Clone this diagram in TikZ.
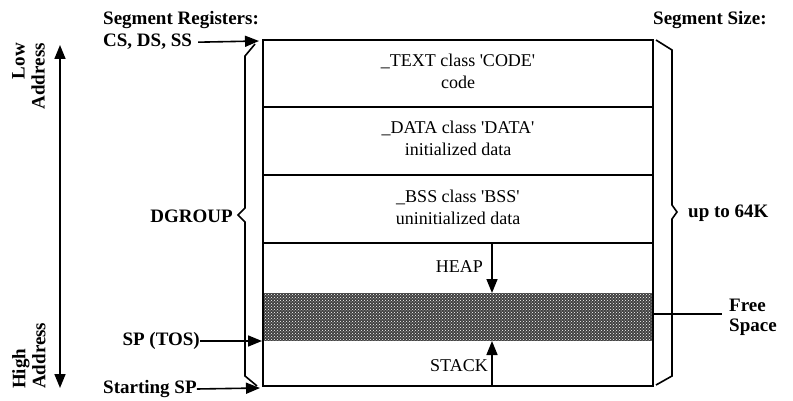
\documentclass[tikz,border=0pt]{standalone}
\usepackage{fontspec}
\setmainfont{Liberation Serif}
\newfontfamily\boxserif{Liberation Serif}
\usetikzlibrary{arrows.meta,patterns}
\begin{document}
\begin{tikzpicture}[x=1pt,y=-1pt,
  ln/.style={line width=1.6pt},
  lbl/.style={font=\fontsize{19}{20}\selectfont\bfseries, inner sep=0pt},
  boxtxt/.style={font=\boxserif\fontsize{18}{22}\selectfont, align=center, inner sep=0pt},
  arr/.style={line width=1.6pt, -{Triangle[length=14pt,width=11pt]}},
  brace/.style={line width=1.6pt, line join=miter}]
\useasboundingbox (0,0) rectangle (793,401);
% box geometry
\coordinate (tl) at (263,40);
\coordinate (tr) at (653,40);
\coordinate (bl) at (263,386);
\coordinate (br) at (653,386);
\coordinate (d1l) at (263,107); \coordinate (d1r) at (653,107);
\coordinate (d2l) at (263,175); \coordinate (d2r) at (653,175);
\coordinate (d3l) at (263,243); \coordinate (d3r) at (653,243);
\coordinate (fsl) at (263,293); \coordinate (fsr) at (653,341);
% free space
\fill[black!75] (fsl) rectangle (fsr);
\fill[pattern=crosshatch dots, pattern color=white] (fsl) rectangle (fsr);
\draw[ln] (tl) rectangle (br);
\draw[ln] (d1l) -- (d1r);
\draw[ln] (d2l) -- (d2r);
\draw[ln] (d3l) -- (d3r);
% box texts
\node[boxtxt] (text) at (458,71) {\_TEXT class 'CODE'\\code};
\node[boxtxt] (data) at (458,138) {\_DATA class 'DATA'\\initialized data};
\node[boxtxt] (bss) at (458,207) {\_BSS class 'BSS'\\uninitialized data};
\node[boxtxt, anchor=east] (heap) at (483,267) {HEAP};
\node[boxtxt, anchor=east] (stack) at (488,366) {STACK};
\coordinate (ha) at (492,243); \coordinate (hb) at (492,293);
\coordinate (sa) at (492,386); \coordinate (sb) at (492,341);
\draw[arr] (ha) -- (hb);
\draw[arr] (sa) -- (sb);
% left labels
\node[lbl, anchor=base west] (segreg) at (103,25) {Segment Registers:};
\node[lbl, anchor=base west] (csds) at (103,47) {CS, DS, SS};
\coordinate (c2) at (259,41);
\draw[arr] ([xshift=6pt]csds.east) -- (c2);
\node[lbl, anchor=east] (dgroup) at (233,216) {DGROUP};
\node[lbl, anchor=east] (sptos) at (200,341) {SP (TOS)};
\coordinate (c3) at (262,341);
\draw[arr] (sptos.east) -- (c3);
\node[lbl, anchor=west] (startsp) at (103,389) {Starting SP};
\coordinate (c4) at (260,388);
\draw[arr] (startsp.east) -- (c4);
% braces
\draw[brace] (255,44) -- (245,56) -- (245,208) -- (238,215) -- (245,222) -- (245,376) -- (257,386);
\draw[brace] (656,40) -- (672,50) -- (672,205) -- (677,212) -- (672,219) -- (672,376) -- (656,385);
% right labels
\node[lbl, anchor=base west] (segsize) at (653,25) {Segment Size:};
\node[lbl, anchor=west] (upto) at (688,213) {up to 64K};
\coordinate (fs1) at (653,314);
\coordinate (fs2) at (722,314);
\draw[ln] (fs1) -- (fs2);
\node[lbl, anchor=west, align=left] (free) at (729,317) {Free\\Space};
% address arrow
\coordinate (aa) at (60,45); \coordinate (ab) at (60,388);
\draw[line width=1.6pt, {Triangle[length=14pt,width=11pt]}-{Triangle[length=14pt,width=11pt]}] (aa) -- (ab);
\node[lbl, rotate=90, align=right, anchor=north east] (low) at (12,43) {Low\\Address};
\node[lbl, rotate=90, align=left, anchor=north west] (high) at (12,389) {High\\Address};
\end{tikzpicture}
\end{document}
